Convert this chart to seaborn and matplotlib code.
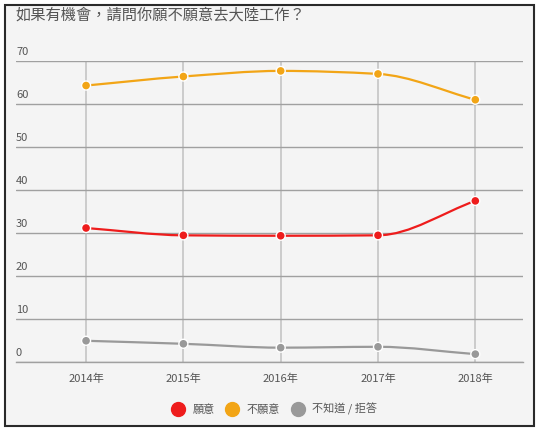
import numpy as np
import pandas as pd
import matplotlib
matplotlib.use("Agg")
import matplotlib.pyplot as plt
import seaborn as sns
from matplotlib.path import Path
from matplotlib.patches import PathPatch, Rectangle
from matplotlib.lines import Line2D

# data
years = ["2014年", "2015年", "2016年", "2017年", "2018年"]
series_names = ["願意", "不願意", "不知道 / 拒答"]
willing = [31.2, 29.5, 29.4, 29.5, 37.5]
unwilling = [64.3, 66.4, 67.7, 67.0, 61.0]
unknown = [5.0, 4.3, 3.4, 3.6, 1.9]
colors = ["#ee1c1c", "#f2a516", "#999999"]
y_ticks = [0, 10, 20, 30, 40, 50, 60, 70]

sns.set_theme(style="white")
plt.rcParams["font.family"] = ["Noto Sans CJK TC", "DejaVu Sans"]

df = pd.DataFrame({
    "pos": list(range(len(years))) * 3,
    "value": willing + unwilling + unknown,
    "series": [s for s in series_names for _ in years],
})


def smooth_path(x, y):
    # monotone cubic (Fritsch-Carlson) drawn as bezier segments
    x = np.asarray(x, float)
    y = np.asarray(y, float)
    h = np.diff(x)
    d = np.diff(y) / h
    m = np.zeros_like(y)
    m[0], m[-1] = d[0], d[-1]
    for i in range(1, len(y) - 1):
        if d[i - 1] * d[i] <= 0:
            m[i] = 0
        else:
            m[i] = 2 / (1 / d[i - 1] + 1 / d[i])
    verts = [(x[0], y[0])]
    codes = [Path.MOVETO]
    for i in range(len(h)):
        verts += [(x[i] + h[i] / 3, y[i] + m[i] * h[i] / 3),
                  (x[i + 1] - h[i] / 3, y[i + 1] - m[i + 1] * h[i] / 3),
                  (x[i + 1], y[i + 1])]
        codes += [Path.CURVE4] * 3
    return Path(verts, codes)


fig = plt.figure(figsize=(5.44, 4.29), dpi=100, facecolor="white")
fig.patches.append(Rectangle((5 / 544, 1 - 426 / 429), 529 / 544, 421 / 429,
                             transform=fig.transFigure, facecolor="#f4f4f4",
                             edgecolor="#2a2a2a", linewidth=1.5, zorder=-10))
ax = fig.add_axes([16 / 544, 1 - 362.3 / 429, 507 / 544, 301.3 / 429])
ax.set_facecolor("none")

for name, col in zip(series_names, colors):
    sub = df[df["series"] == name]
    ax.add_patch(PathPatch(smooth_path(sub["pos"], sub["value"]), facecolor="none",
                           edgecolor=col, linewidth=1.6, zorder=3))

sns.scatterplot(data=df, x="pos", y="value", hue="series", palette=colors,
                hue_order=series_names, s=42, edgecolor="white", linewidth=1,
                legend=False, zorder=4, ax=ax)

ax.set_xlim(-0.72, 4.49)
ax.set_ylim(0, 70)
ax.set_yticks(y_ticks)
ax.set_yticklabels([])
ax.set_xticks(range(len(years)))
ax.set_xticklabels(years, fontsize=8, color="#555555")
ax.tick_params(axis="x", length=4, color="#c8c8c8", width=1.3, pad=4)
ax.tick_params(axis="y", length=0)
ax.set_xlabel("")
ax.set_ylabel("")
ax.grid(axis="y", color="#a0a0a0", linewidth=1)
ax.grid(axis="x", color="#c8c8c8", linewidth=1.3)
for side in ["top", "right", "left"]:
    ax.spines[side].set_visible(False)
ax.spines["bottom"].set_color("#a0a0a0")
ax.spines["bottom"].set_linewidth(1)

for t in y_ticks:
    ax.annotate(str(t), xy=(0, t), xycoords=("axes fraction", "data"),
                xytext=(0, 3), textcoords="offset points", ha="left", va="bottom",
                fontsize=8, color="#555555")

fig.text(16 / 544, 1 - 15 / 429, "如果有機會，請問你願不願意去大陸工作？",
         ha="left", va="center", fontsize=11, color="#555555")

handles = [Line2D([], [], marker="o", linestyle="", markersize=10,
                  markerfacecolor=c, markeredgecolor=c) for c in colors]
fig.legend(handles, series_names, loc="center", bbox_to_anchor=(0.5, 1 - 409 / 429),
           ncol=3, frameon=False, fontsize=8, handletextpad=0.3,
           columnspacing=0.6, labelcolor="#555555")

fig.savefig("out.png", dpi=100, facecolor="white")
